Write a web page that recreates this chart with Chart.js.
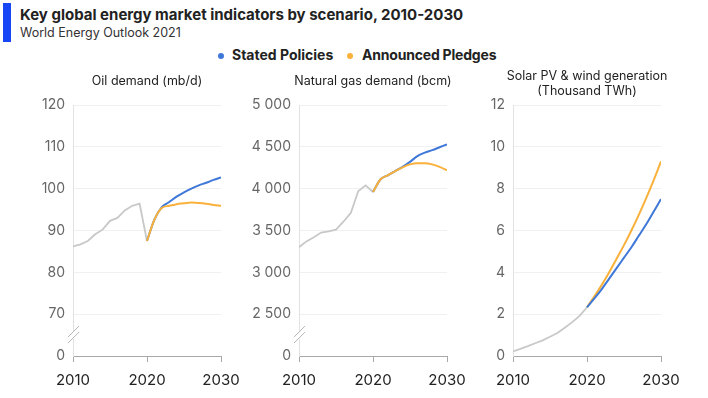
<!DOCTYPE html>
<html>
<head>
<meta charset="utf-8">
<script src="https://cdn.jsdelivr.net/npm/chart.js@4"></script>
<style>
  body { margin: 0; background: #fff; font-family: Inter, sans-serif; color: #222; }
  #page { position: relative; width: 708px; height: 398px; overflow: hidden; }
  .bar { position: absolute; left: 3px; top: 3px; width: 8px; height: 39px; background: #1746f5; }
  .title { position: absolute; left: 20px; top: 5px; font-size: 15px; font-weight: 700; white-space: nowrap; }
  .subtitle { position: absolute; left: 20px; top: 25px; font-size: 12.5px; color: #333; white-space: nowrap; }
  .legend { position: absolute; top: 46px; font-size: 14px; font-weight: 700; white-space: nowrap; }
  .dot { position: absolute; top: 7px; width: 6px; height: 6px; border-radius: 50%; }
  canvas { position: absolute; top: 60px; }
</style>
</head>
<body>
<div id="page">
  <div class="bar"></div>
  <div class="title">Key global energy market indicators by scenario, 2010-2030</div>
  <div class="subtitle">World Energy Outlook 2021</div>
  <div class="legend" style="left:218px"><span class="dot" style="left:0;background:#3f78d8"></span><span style="margin-left:14px">Stated Policies</span></div>
  <div class="legend" style="left:347px"><span class="dot" style="left:0;background:#f9b13b"></span><span style="margin-left:15px;letter-spacing:-0.2px">Announced Pledges</span></div>
  <canvas id="oilChart" width="220" height="338" style="left:20px"></canvas>
  <canvas id="gasChart" width="220" height="338" style="left:246px"></canvas>
  <canvas id="renChart" width="220" height="338" style="left:460px"></canvas>
</div>
<script>
const histYears = [2010, 2011, 2012, 2013, 2014, 2015, 2016, 2017, 2018, 2019, 2020];
const projYears = [2020, 2021, 2022, 2023, 2024, 2025, 2026, 2027, 2028, 2029, 2030];
const xTicks = [2010, 2020, 2030];

const oilHistory = [86.2, 86.7, 87.5, 89.1, 90.2, 92.3, 93.0, 94.8, 95.9, 96.4, 87.5];
const oilStated = [87.5, 92.6, 95.6, 96.8, 98.1, 99.1, 100.0, 100.8, 101.4, 102.1, 102.7];
const oilPledges = [87.5, 92.6, 95.4, 95.9, 96.3, 96.5, 96.7, 96.6, 96.4, 96.1, 95.9];

const gasHistory = [3300, 3370, 3420, 3475, 3490, 3510, 3605, 3710, 3970, 4040, 3960];
const gasStated = [3960, 4110, 4160, 4210, 4260, 4320, 4390, 4430, 4460, 4495, 4530];
const gasPledges = [3960, 4110, 4160, 4210, 4255, 4290, 4305, 4305, 4290, 4260, 4220];

const renHistory = [0.22, 0.34, 0.47, 0.61, 0.75, 0.92, 1.1, 1.35, 1.62, 1.92, 2.33];
const renStated = [2.33, 2.75, 3.2, 3.7, 4.2, 4.7, 5.2, 5.75, 6.3, 6.9, 7.5];
const renPledges = [2.33, 2.85, 3.4, 4.0, 4.65, 5.3, 6.0, 6.75, 7.55, 8.4, 9.3];

const COLOR_STATED = '#3f78d8';
const COLOR_PLEDGES = '#f9b13b';
const COLOR_HISTORY = '#c8c8c8';
const FONT = 'Inter, sans-serif';

function toPoints(xs, ys) {
    return xs.map((x, i) => ({ x: x, y: ys[i] }));
}

function fmt(v) {
    return String(v).replace(/\B(?=(\d{3})+(?!\d))/g, ' ');
}

// panel title + axis break marks
const panelDecor = {
    id: 'panelDecor',
    afterDraw(chart, args, opts) {
        const ctx = chart.ctx;
        const area = chart.chartArea;
        const cx = (area.left + area.right) / 2;
        ctx.save();
        ctx.fillStyle = '#222';
        ctx.font = '12.5px ' + FONT;
        ctx.textAlign = 'center';
        ctx.textBaseline = 'middle';
        const lines = opts.title;
        const y0 = lines.length > 1 ? 16 : 21;
        lines.forEach((t, i) => ctx.fillText(t, cx, y0 + i * 15));

        if (opts.broken) {
            const y = chart.scales.y;
            const cy = (y.getPixelForValue(y.min) + y.getPixelForValue(y.min + opts.step)) / 2;
            const lx = area.left;
            ctx.fillStyle = '#fff';
            ctx.fillRect(lx - 1, cy - 4, 3, 8);
            ctx.strokeStyle = '#b5b5b5';
            ctx.lineWidth = 1;
            [-3, 3].forEach(d => {
                ctx.beginPath();
                ctx.moveTo(lx - 5, cy + d + 5);
                ctx.lineTo(lx + 6, cy + d - 6);
                ctx.stroke();
            });
        }
        ctx.restore();
    }
};

function makeChart(id, title, hist, stated, pledges, yMin, yMax, yStep, broken, statedOnTop) {
    const ctx = document.getElementById(id).getContext('2d');
    return new Chart(ctx, {
        type: 'line',
        data: {
            datasets: [
                {
                    label: 'History',
                    data: toPoints(histYears, hist),
                    borderColor: COLOR_HISTORY,
                    borderWidth: 1.8,
                    pointRadius: 0,
                    tension: 0,
                    order: 3
                },
                {
                    label: 'Stated Policies',
                    data: toPoints(projYears, stated),
                    borderColor: COLOR_STATED,
                    borderWidth: 2,
                    pointRadius: 0,
                    cubicInterpolationMode: 'monotone',
                    order: statedOnTop ? 1 : 2
                },
                {
                    label: 'Announced Pledges',
                    data: toPoints(projYears, pledges),
                    borderColor: COLOR_PLEDGES,
                    borderWidth: 2,
                    pointRadius: 0,
                    cubicInterpolationMode: 'monotone',
                    order: statedOnTop ? 2 : 1
                }
            ]
        },
        options: {
            responsive: false,
            animation: false,
            devicePixelRatio: 1,
            layout: { padding: { top: 45, right: 19, left: 0, bottom: 0 } },
            scales: {
                x: {
                    type: 'linear',
                    min: 2010,
                    max: 2030,
                    afterBuildTicks: axis => { axis.ticks = xTicks.map(v => ({ value: v })); },
                    afterFit: axis => { axis.height = 42; axis.paddingLeft = 0; axis.paddingRight = 0; },
                    ticks: {
                        color: '#222',
                        font: { family: FONT, size: 15 },
                        padding: 9,
                        maxRotation: 0,
                        callback: v => String(v)
                    },
                    grid: { drawOnChartArea: false, tickLength: 6, color: '#a8a8a8' },
                    border: { color: '#a8a8a8', width: 1 }
                },
                y: {
                    min: yMin,
                    max: yMax,
                    afterFit: axis => { axis.width = 53; axis.paddingTop = 0; axis.paddingBottom = 0; },
                    ticks: {
                        stepSize: yStep,
                        color: '#666',
                        font: { family: FONT, size: 14 },
                        padding: 8,
                        callback: v => (broken && v === yMin) ? '0' : fmt(v)
                    },
                    grid: { drawTicks: false, color: '#f0f0f0' },
                    border: { color: '#e2e2e2', width: 1 }
                }
            },
            plugins: {
                legend: { display: false },
                tooltip: { enabled: false },
                panelDecor: { title: title, broken: broken, step: yStep }
            }
        },
        plugins: [panelDecor]
    });
}

makeChart('oilChart', ['Oil demand (mb/d)'], oilHistory, oilStated, oilPledges, 60, 120, 10, true, false);
makeChart('gasChart', ['Natural gas demand (bcm)'], gasHistory, gasStated, gasPledges, 2000, 5000, 500, true, false);
makeChart('renChart', ['Solar PV & wind generation', '(Thousand TWh)'], renHistory, renStated, renPledges, 0, 12, 2, false, true);
</script>
</body>
</html>
